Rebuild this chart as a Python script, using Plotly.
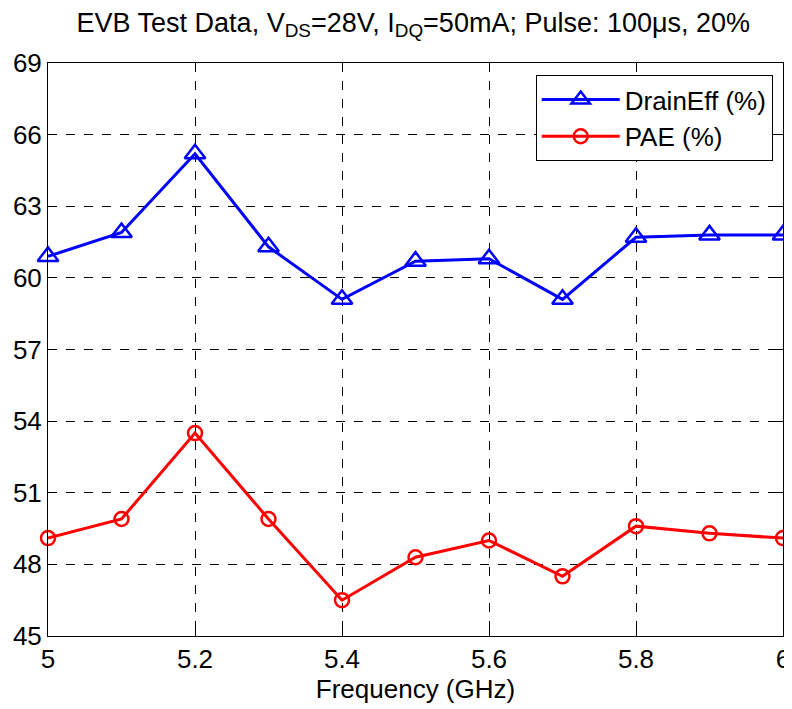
import plotly.graph_objects as go

freq = [5.0, 5.1, 5.2, 5.3, 5.4, 5.5, 5.6, 5.7, 5.8, 5.9, 6.0]
drain_eff = [60.9, 61.9, 65.2, 61.3, 59.1, 60.7, 60.8, 59.1, 61.7, 61.8, 61.8]
pae = [49.1, 49.9, 53.5, 49.9, 46.5, 48.3, 49.0, 47.5, 49.6, 49.3, 49.1]
x_ticks = [5, 5.2, 5.4, 5.6, 5.8, 6]
y_ticks = [45, 48, 51, 54, 57, 60, 63, 66, 69]

FONT = "Liberation Sans, Arial"

fig = go.Figure()
fig.add_trace(go.Scatter(
    x=freq, y=drain_eff, mode="lines+markers", name="DrainEff (%)",
    line=dict(color="#0000ff", width=3),
    marker=dict(symbol="triangle-up-open", size=18, color="#0000ff", line=dict(width=2.5, color="#0000ff")),
    cliponaxis=False,
))
fig.add_trace(go.Scatter(
    x=freq, y=pae, mode="lines+markers", name="PAE (%)",
    line=dict(color="#ff0000", width=3),
    marker=dict(symbol="circle-open", size=14, color="#ff0000", line=dict(width=2.5, color="#ff0000")),
    cliponaxis=False,
))

axis_common = dict(
    showline=True, linecolor="black", linewidth=1, mirror="ticks",
    ticks="inside", ticklen=6, tickcolor="black",
    showgrid=True, gridcolor="black", griddash="dash", gridwidth=1,
    zeroline=False, automargin=False,
    tickfont=dict(family=FONT, size=26, color="black"),
)

fig.update_layout(
    width=784, height=701,
    margin=dict(l=40, r=9, t=55, b=73),
    paper_bgcolor="white", plot_bgcolor="white",
    title=dict(
        text="EVB Test Data, V<sub>DS</sub>=28V, I<sub>DQ</sub>=50mA; Pulse: 100μs, 20%",
        x=0.517, xanchor="center", y=0.993, yanchor="top",
        font=dict(family=FONT, size=27, color="black"),
    ),
    xaxis=dict(axis_common, range=[5, 6], tickvals=x_ticks, ticktext=[str(t) for t in x_ticks],
               title=dict(text="Frequency (GHz)", font=dict(family=FONT, size=26, color="black"), standoff=2)),
    yaxis=dict(axis_common, range=[45, 69], tickvals=y_ticks),
    legend=dict(
        x=0.986, xanchor="right", y=0.979, yanchor="top",
        bordercolor="black", borderwidth=1, bgcolor="white",
        font=dict(family=FONT, size=26, color="black"),
        itemwidth=78, tracegroupgap=0,
    ),
    showlegend=True,
)

fig.write_html("out.html")
